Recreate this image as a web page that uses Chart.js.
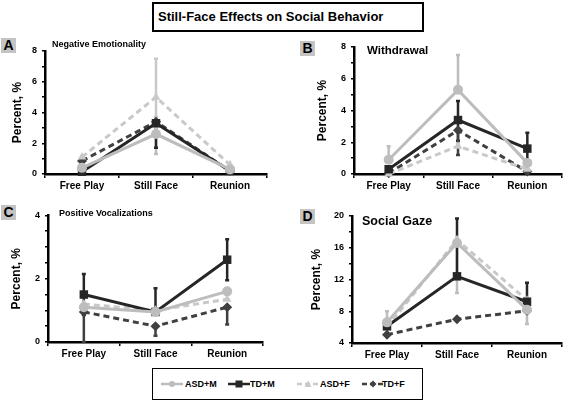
<!DOCTYPE html>
<html>
<head>
<meta charset="utf-8">
<script src="https://cdn.jsdelivr.net/npm/chart.js@4.4.1/dist/chart.umd.min.js"></script>
<style>
  body { margin: 0; background: #fff; }
  #wrap { position: relative; width: 568px; height: 403px; overflow: hidden;
          font-family: "Liberation Sans", Arial, sans-serif; font-weight: bold; color: #000; }
  .abs { position: absolute; white-space: nowrap; }
  .letter { position: absolute; background: #c4c4c4; font-size: 14px; line-height: 15px;
            width: 15px; text-align: center; }
  #title { left: 152px; top: 2px; width: 264px; height: 26px; border: 2px solid #000;
           font-size: 13px; line-height: 26px; padding-left: 4px; box-sizing: content-box; }
  #legend { left: 152px; top: 368px; width: 269px; height: 30px; border: 1.5px solid #000; }
  .lg { position: absolute; font-size: 9px; top: 10px; }
  .sw { position: absolute; top: 11px; }
</style>
</head>
<body>
<div id="wrap">
  <div id="title" class="abs">Still-Face Effects on Social Behavior</div>

  <div class="letter" style="left:1px;top:38px;">A</div>
  <div class="letter" style="left:300px;top:41px;">B</div>
  <div class="letter" style="left:1px;top:205px;">C</div>
  <div class="letter" style="left:300px;top:209px;">D</div>

  <div id="pA" class="abs" style="left:0px;top:40px;"><canvas id="cA" width="275" height="160"></canvas></div>
  <div id="pB" class="abs" style="left:290px;top:35px;"><canvas id="cB" width="278" height="165"></canvas></div>
  <div id="pC" class="abs" style="left:0px;top:205px;"><canvas id="cC" width="270" height="160"></canvas></div>
  <div id="pD" class="abs" style="left:290px;top:205px;"><canvas id="cD" width="278" height="160"></canvas></div>

  <div class="abs" style="left:52px;top:39px;font-size:9px;">Negative Emotionality</div>
  <div class="abs" style="left:367px;top:44px;font-size:11.5px;">Withdrawal</div>
  <div class="abs" style="left:59px;top:208px;font-size:9px;">Positive Vocalizations</div>
  <div class="abs" style="left:362px;top:214px;font-size:12.5px;">Social Gaze</div>

  <div id="legend" class="abs"></div>
</div>

<script>
const categories = ['Free Play', 'Still Face', 'Reunion'];
const groups = ['ASD+M', 'TD+M', 'ASD+F', 'TD+F'];

// values per group, same order as groups
const negEmotion = [
  [0.4, 2.6, 0.3],
  [0.15, 3.3, 0.2],
  [1.1, 5.0, 0.6],
  [0.85, 3.4, 0.2]
];
const withdrawal = [
  [0.9, 5.3, 0.7],
  [0.3, 3.4, 1.6],
  [0.0, 1.75, 0.3],
  [0.05, 2.75, 0.15]
];
const posVocal = [
  [1.1, 0.95, 1.6],
  [1.5, 0.95, 2.6],
  [1.2, 1.0, 1.35],
  [0.95, 0.5, 1.1]
];
const socialGaze = [
  [6.6, 16.6, 8.2],
  [6.1, 12.4, 9.2],
  [6.0, 17.0, 9.4],
  [5.05, 7.0, 8.05]
];

// error bars: [group, category, low, high]
const negErr = [[0, 1, 1.3, 3.7], [1, 1, 1.7, 3.3], [2, 1, 2.5, 7.5]];
const withErr = [[0, 0, 0.9, 1.75], [0, 1, 5.3, 7.5], [1, 1, 2.1, 4.6], [3, 1, 1.2, 2.75], [1, 2, 0.6, 2.6]];
const vocErr = [[1, 0, 0.85, 2.15], [3, 0, 0, 0.95], [1, 1, 0.95, 1.7], [3, 1, 0.2, 0.5], [1, 2, 1.95, 3.25], [3, 2, 0.55, 1.1]];
const gazeErr = [[0, 0, 6.6, 8.0], [0, 1, 10.3, 16.6], [1, 1, 12.3, 19.7], [1, 2, 9.2, 11.6], [0, 2, 6.4, 8.2]];

const FONT = '"Liberation Sans", Arial, sans-serif';
const colors = ['#bdbdbd', '#262626', '#c9c9c9', '#404040'];
const dashes = [[], [], [6, 4], [6, 4]];
const markers = ['circle', 'rect', 'triangle', 'rectRot'];
const markerSize = [5, 6, 5, 5];

const errorBars = {
  id: 'errorBars',
  beforeDatasetsDraw(chart, args, opts) {
    const ctx = chart.ctx;
    const xs = chart.scales.x, ys = chart.scales.y;
    ctx.save();
    ctx.lineWidth = 2.5;
    for (const [g, c, lo, hi] of (opts.bars || [])) {
      const px = xs.getPixelForValue(c);
      const y1 = ys.getPixelForValue(Math.max(lo, ys.min));
      const y2 = ys.getPixelForValue(Math.min(hi, ys.max));
      ctx.strokeStyle = colors[g];
      ctx.beginPath();
      ctx.moveTo(px, y1); ctx.lineTo(px, y2);
      ctx.moveTo(px - 2, y1); ctx.lineTo(px + 2, y1);
      ctx.moveTo(px - 2, y2); ctx.lineTo(px + 2, y2);
      ctx.stroke();
    }
    ctx.restore();
  }
};

function makePanel(id, values, bars, opt) {
  const datasets = groups.map((g, i) => ({
    label: g,
    data: values[i],
    borderColor: colors[i],
    backgroundColor: colors[i],
    borderWidth: 3,
    borderDash: dashes[i],
    pointStyle: markers[i],
    pointRadius: markerSize[i],
    pointBorderWidth: 0,
    tension: 0,
    clip: false
  }));
  new Chart(document.getElementById(id), {
    type: 'line',
    data: { labels: categories, datasets: datasets },
    options: {
      responsive: false,
      animation: false,
      layout: { padding: opt.pad },
      plugins: { legend: { display: false }, tooltip: { enabled: false }, errorBars: { bars: bars } },
      scales: {
        x: {
          offset: true,
          afterFit: s => { s.height = 20; },
          border: { color: '#000', width: 2.5 },
          grid: { offset: true, drawOnChartArea: false, tickLength: 4, color: '#000', lineWidth: 1.5 },
          ticks: { color: '#000', font: { family: FONT, size: 10, weight: 'bold' }, padding: 2, maxRotation: 0, autoSkip: false }
        },
        y: {
          min: opt.min,
          max: opt.max,
          afterFit: s => { s.width = opt.yw; },
          border: { color: '#000', width: 2.5 },
          grid: { drawOnChartArea: false, tickLength: 3, color: '#000', lineWidth: 1.5 },
          ticks: {
            stepSize: opt.step,
            color: '#000',
            padding: 5,
            font: { family: FONT, size: 9, weight: 'bold' },
            callback: v => ((v - opt.min) % opt.label === 0 ? v : '')
          },
          title: { display: true, text: 'Percent, %', color: '#000', padding: 0, font: { family: FONT, size: 12, weight: 'bold' } }
        }
      }
    },
    plugins: [errorBars]
  });
}

makePanel('cA', negEmotion, negErr, { min: 0, max: 8, step: 1, label: 2, yw: 35, pad: { left: 10, top: 11, right: 8, bottom: 6 } });
makePanel('cB', withdrawal, withErr, { min: 0, max: 8, step: 1, label: 2, yw: 39, pad: { left: 25, top: 12, right: 1, bottom: 6 } });
makePanel('cC', posVocal, vocErr, { min: 0, max: 4, step: 0.5, label: 2, yw: 39, pad: { left: 9, top: 10, right: 7, bottom: 3 } });
makePanel('cD', socialGaze, gazeErr, { min: 4, max: 20, step: 2, label: 4, yw: 43, pad: { left: 19, top: 11, right: 1, bottom: 2 } });

// legend
const legend = document.getElementById('legend');
const swLeft = [8, 75, 144, 209];
const txLeft = [32, 97, 167, 229];
groups.forEach((g, i) => {
  const c = colors[i];
  let mk = '';
  if (markers[i] === 'circle') mk = `<circle cx="11" cy="4" r="3" fill="${c}"/>`;
  if (markers[i] === 'rect') mk = `<rect x="7.5" y="0.5" width="7" height="7" fill="${c}"/>`;
  if (markers[i] === 'triangle') mk = `<polygon points="11,0.5 14.5,7 7.5,7" fill="${c}"/>`;
  if (markers[i] === 'rectRot') mk = `<polygon points="11,0.5 14.5,4 11,7.5 7.5,4" fill="${c}"/>`;
  const dash = dashes[i].length ? `stroke-dasharray="5 3"` : '';
  legend.insertAdjacentHTML('beforeend',
    `<svg class="sw" style="left:${swLeft[i]}px" width="22" height="8"><line x1="0" y1="4" x2="22" y2="4" stroke="${c}" stroke-width="2.5" ${dash}/>${mk}</svg>` +
    `<span class="lg" style="left:${txLeft[i]}px">${g}</span>`);
});
</script>
</body>
</html>
